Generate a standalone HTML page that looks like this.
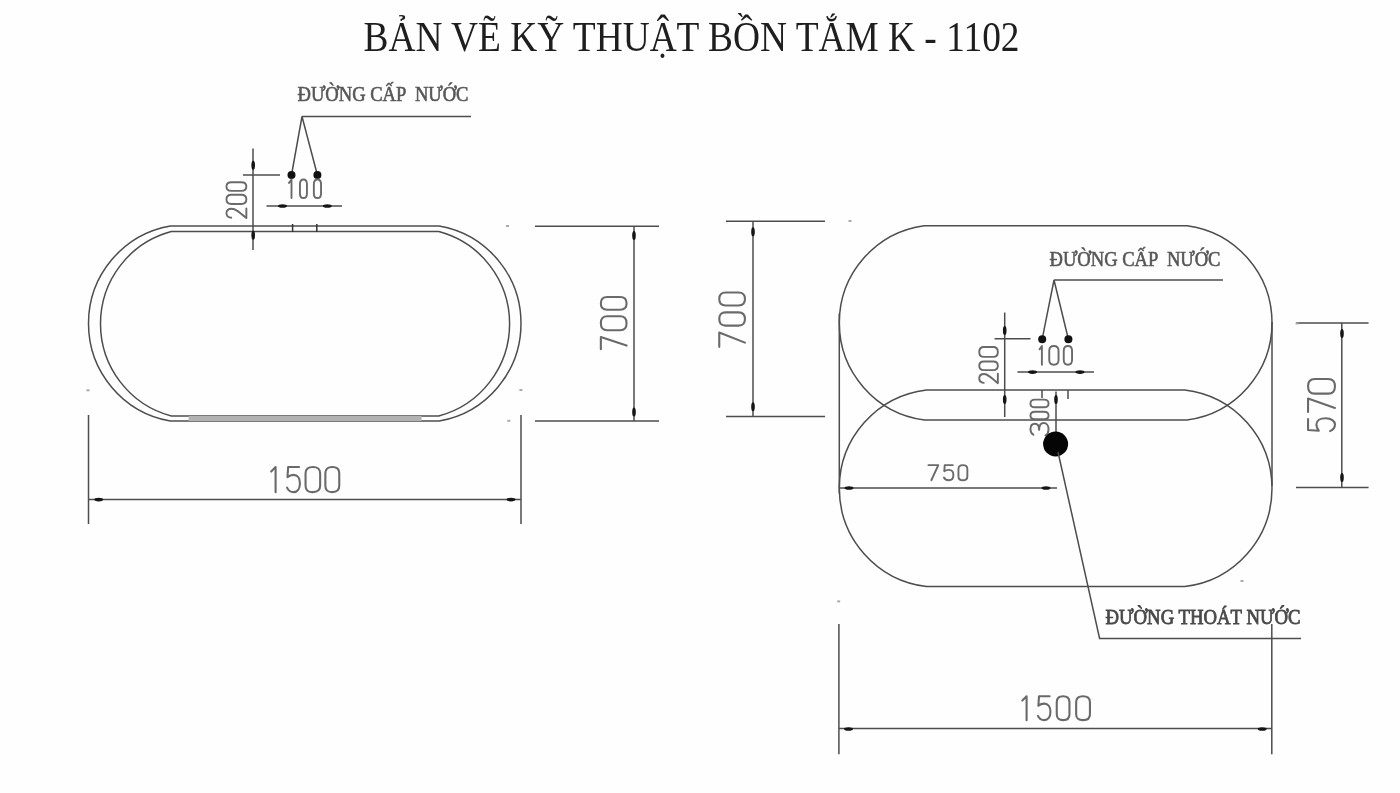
<!DOCTYPE html>
<html>
<head>
<meta charset="utf-8">
<style>
html,body{margin:0;padding:0;background:#fefefe;width:1400px;height:793px;overflow:hidden;}
svg{display:block;filter:blur(0.35px);}
.lbl{font-family:"Liberation Serif",serif;fill:#575757;stroke:#575757;stroke-width:0.6;font-weight:normal;}
.lbl2{font-family:"Liberation Serif",serif;fill:#4a4a4a;stroke:#4a4a4a;stroke-width:0.85;font-weight:normal;}
.ttl{font-family:"Liberation Serif",serif;fill:#1e1e1e;}
</style>
</head>
<body>
<svg width="1400" height="793" viewBox="0 0 1400 793">
<text class="ttl" x="363.5" y="50.5" font-size="41.3" textLength="656" lengthAdjust="spacingAndGlyphs" xml:space="preserve">BẢN VẼ KỸ THUẬT BỒN TẮM K - 1102</text>
<text class="lbl" x="297.5" y="101.4" font-size="20.5" textLength="171" lengthAdjust="spacingAndGlyphs" xml:space="preserve">ĐƯỜNG CẤP  NƯỚC</text>
<path d="M302 116.5 H471 M302 116.5 L291.5 175 M302 116.5 L317.4 175" fill="none" stroke="#4d4d4d" stroke-width="1.5"/>
<circle cx="291.5" cy="175" r="4" fill="#111"/>
<circle cx="317.4" cy="175" r="4" fill="#111"/>
<path d="M253 148.5 V250 M243 175 H280" fill="none" stroke="#4d4d4d" stroke-width="1.5"/>
<path class="num" d="M3,24 C5,8 16,0 30,0 C47,0 58,10 58,26 C58,44 42,60 1,100 H60" transform="translate(226.45,218.25) rotate(-90) scale(0.1650,0.1990)" vector-effect="non-scaling-stroke" fill="none" stroke="#6a6a6a" stroke-width="1.9" stroke-linecap="round" stroke-linejoin="round"/>
<path class="num" d="M0,25 C0,7 11,0 30,0 C49,0 60,7 60,25 V75 C60,93 49,100 30,100 C11,100 0,93 0,75 Z" transform="translate(226.45,203.95) rotate(-90) scale(0.1533,0.1990)" vector-effect="non-scaling-stroke" fill="none" stroke="#6a6a6a" stroke-width="1.9" stroke-linecap="round" stroke-linejoin="round"/>
<path class="num" d="M0,25 C0,7 11,0 30,0 C49,0 60,7 60,25 V75 C60,93 49,100 30,100 C11,100 0,93 0,75 Z" transform="translate(226.45,190.85) rotate(-90) scale(0.1433,0.1990)" vector-effect="non-scaling-stroke" fill="none" stroke="#6a6a6a" stroke-width="1.9" stroke-linecap="round" stroke-linejoin="round"/>
<path class="num" d="M19,18 L36,0 V100" transform="translate(286.22,179.55) scale(0.1467,0.1850)" vector-effect="non-scaling-stroke" fill="none" stroke="#6a6a6a" stroke-width="1.9" stroke-linecap="round" stroke-linejoin="round"/>
<path class="num" d="M0,25 C0,7 11,0 30,0 C49,0 60,7 60,25 V75 C60,93 49,100 30,100 C11,100 0,93 0,75 Z" transform="translate(299.95,179.55) scale(0.1167,0.1850)" vector-effect="non-scaling-stroke" fill="none" stroke="#6a6a6a" stroke-width="1.9" stroke-linecap="round" stroke-linejoin="round"/>
<path class="num" d="M0,25 C0,7 11,0 30,0 C49,0 60,7 60,25 V75 C60,93 49,100 30,100 C11,100 0,93 0,75 Z" transform="translate(313.85,179.55) scale(0.1200,0.1850)" vector-effect="non-scaling-stroke" fill="none" stroke="#6a6a6a" stroke-width="1.9" stroke-linecap="round" stroke-linejoin="round"/>
<path d="M266.5 206 H342" fill="none" stroke="#4d4d4d" stroke-width="1.5"/>
<path d="M170.33,226 H439.17 A99,99 0 0 1 439.17,421 H170.33 A99,99 0 0 1 170.33,226 Z" fill="none" stroke="#4d4d4d" stroke-width="1.5"/>
<path d="M171.30,231.5 H438.80 A95.5,95.5 0 0 1 438.80,416 H171.30 A95.5,95.5 0 0 1 171.30,231.5 Z" fill="none" stroke="#4d4d4d" stroke-width="1.5"/>
<rect x="188.6" y="416" width="233" height="5" fill="#b2b2b2"/>
<path d="M292.6 224 v8 M316.8 224 v8" fill="none" stroke="#333" stroke-width="1.5"/>
<path d="M535 226.3 H659 M535 421 H659 M634 226.3 V421" fill="none" stroke="#4d4d4d" stroke-width="1.5"/>
<path class="num" d="M0,0 H58 L17,100" transform="translate(600.85,349.15) rotate(-90) scale(0.2100,0.2570)" vector-effect="non-scaling-stroke" fill="none" stroke="#6a6a6a" stroke-width="2.1" stroke-linecap="round" stroke-linejoin="round"/>
<path class="num" d="M0,25 C0,7 11,0 30,0 C49,0 60,7 60,25 V75 C60,93 49,100 30,100 C11,100 0,93 0,75 Z" transform="translate(600.85,330.25) rotate(-90) scale(0.2333,0.2570)" vector-effect="non-scaling-stroke" fill="none" stroke="#6a6a6a" stroke-width="2.1" stroke-linecap="round" stroke-linejoin="round"/>
<path class="num" d="M0,25 C0,7 11,0 30,0 C49,0 60,7 60,25 V75 C60,93 49,100 30,100 C11,100 0,93 0,75 Z" transform="translate(600.85,309.75) rotate(-90) scale(0.2117,0.2570)" vector-effect="non-scaling-stroke" fill="none" stroke="#6a6a6a" stroke-width="2.1" stroke-linecap="round" stroke-linejoin="round"/>
<path d="M88.5 415 V524 M521 415 V524 M88.5 499.6 H521" fill="none" stroke="#4d4d4d" stroke-width="1.5"/>
<path class="num" d="M19,18 L36,0 V100" transform="translate(266.30,467.05) scale(0.2583,0.2510)" vector-effect="non-scaling-stroke" fill="none" stroke="#6a6a6a" stroke-width="2.1" stroke-linecap="round" stroke-linejoin="round"/>
<path class="num" d="M55,0 H5 L2,40 C10,34 20,31 30,31 C48,31 59,45 59,65 C59,87 47,100 30,100 C16,100 6,94 0,82" transform="translate(287.05,467.05) scale(0.2183,0.2510)" vector-effect="non-scaling-stroke" fill="none" stroke="#6a6a6a" stroke-width="2.1" stroke-linecap="round" stroke-linejoin="round"/>
<path class="num" d="M0,25 C0,7 11,0 30,0 C49,0 60,7 60,25 V75 C60,93 49,100 30,100 C11,100 0,93 0,75 Z" transform="translate(305.55,467.05) scale(0.2433,0.2510)" vector-effect="non-scaling-stroke" fill="none" stroke="#6a6a6a" stroke-width="2.1" stroke-linecap="round" stroke-linejoin="round"/>
<path class="num" d="M0,25 C0,7 11,0 30,0 C49,0 60,7 60,25 V75 C60,93 49,100 30,100 C11,100 0,93 0,75 Z" transform="translate(325.35,467.05) scale(0.2317,0.2510)" vector-effect="non-scaling-stroke" fill="none" stroke="#6a6a6a" stroke-width="2.1" stroke-linecap="round" stroke-linejoin="round"/>
<path d="M726 221.2 H825 M726 416.4 H825 M753 221.2 V416.4" fill="none" stroke="#4d4d4d" stroke-width="1.5"/>
<path class="num" d="M0,0 H58 L17,100" transform="translate(719.25,346.85) rotate(-90) scale(0.2483,0.2570)" vector-effect="non-scaling-stroke" fill="none" stroke="#6a6a6a" stroke-width="2.1" stroke-linecap="round" stroke-linejoin="round"/>
<path class="num" d="M0,25 C0,7 11,0 30,0 C49,0 60,7 60,25 V75 C60,93 49,100 30,100 C11,100 0,93 0,75 Z" transform="translate(719.25,325.65) rotate(-90) scale(0.2217,0.2570)" vector-effect="non-scaling-stroke" fill="none" stroke="#6a6a6a" stroke-width="2.1" stroke-linecap="round" stroke-linejoin="round"/>
<path class="num" d="M0,25 C0,7 11,0 30,0 C49,0 60,7 60,25 V75 C60,93 49,100 30,100 C11,100 0,93 0,75 Z" transform="translate(719.25,305.45) rotate(-90) scale(0.2150,0.2570)" vector-effect="non-scaling-stroke" fill="none" stroke="#6a6a6a" stroke-width="2.1" stroke-linecap="round" stroke-linejoin="round"/>
<path d="M924.42,225.7 H1186.88 A98,98 0 0 1 1186.88,420 H924.42 A98,98 0 0 1 924.42,225.7 Z" fill="none" stroke="#4d4d4d" stroke-width="1.5"/>
<path d="M926.55,390 H1184.75 A99,99 0 0 1 1184.75,586.6 H926.55 A99,99 0 0 1 926.55,390 Z" fill="none" stroke="#4d4d4d" stroke-width="1.5"/>
<path d="M839.3 313.6 V493.5 M1272 322 V486" fill="none" stroke="#4d4d4d" stroke-width="1.5"/>
<path d="M1296 322.9 H1368.6 M1296 487.4 H1368.6 M1341.8 322.9 V487.4" fill="none" stroke="#4d4d4d" stroke-width="1.5"/>
<path class="num" d="M55,0 H5 L2,40 C10,34 20,31 30,31 C48,31 59,45 59,65 C59,87 47,100 30,100 C16,100 6,94 0,82" transform="translate(1308.05,431.15) rotate(-90) scale(0.2183,0.2690)" vector-effect="non-scaling-stroke" fill="none" stroke="#6a6a6a" stroke-width="2.1" stroke-linecap="round" stroke-linejoin="round"/>
<path class="num" d="M0,0 H58 L17,100" transform="translate(1308.05,411.95) rotate(-90) scale(0.2317,0.2690)" vector-effect="non-scaling-stroke" fill="none" stroke="#6a6a6a" stroke-width="2.1" stroke-linecap="round" stroke-linejoin="round"/>
<path class="num" d="M0,25 C0,7 11,0 30,0 C49,0 60,7 60,25 V75 C60,93 49,100 30,100 C11,100 0,93 0,75 Z" transform="translate(1308.05,393.65) rotate(-90) scale(0.2433,0.2690)" vector-effect="non-scaling-stroke" fill="none" stroke="#6a6a6a" stroke-width="2.1" stroke-linecap="round" stroke-linejoin="round"/>
<text class="lbl" x="1049.5" y="266" font-size="20.5" textLength="171" lengthAdjust="spacingAndGlyphs" xml:space="preserve">ĐƯỜNG CẤP  NƯỚC</text>
<path d="M1054 280 H1223 M1054 280 L1042.2 339.2 M1054 280 L1068.4 339.2" fill="none" stroke="#4d4d4d" stroke-width="1.5"/>
<circle cx="1042.2" cy="339.2" r="4" fill="#111"/>
<circle cx="1068.4" cy="339.2" r="4" fill="#111"/>
<path d="M1004.7 312.6 V417 M994.6 338.8 H1030.5" fill="none" stroke="#4d4d4d" stroke-width="1.5"/>
<path class="num" d="M3,24 C5,8 16,0 30,0 C47,0 58,10 58,26 C58,44 42,60 1,100 H60" transform="translate(979.25,383.35) rotate(-90) scale(0.1600,0.1860)" vector-effect="non-scaling-stroke" fill="none" stroke="#6a6a6a" stroke-width="1.9" stroke-linecap="round" stroke-linejoin="round"/>
<path class="num" d="M0,25 C0,7 11,0 30,0 C49,0 60,7 60,25 V75 C60,93 49,100 30,100 C11,100 0,93 0,75 Z" transform="translate(979.25,370.15) rotate(-90) scale(0.1433,0.1860)" vector-effect="non-scaling-stroke" fill="none" stroke="#6a6a6a" stroke-width="1.9" stroke-linecap="round" stroke-linejoin="round"/>
<path class="num" d="M0,25 C0,7 11,0 30,0 C49,0 60,7 60,25 V75 C60,93 49,100 30,100 C11,100 0,93 0,75 Z" transform="translate(979.25,356.85) rotate(-90) scale(0.1650,0.1860)" vector-effect="non-scaling-stroke" fill="none" stroke="#6a6a6a" stroke-width="1.9" stroke-linecap="round" stroke-linejoin="round"/>
<path class="num" d="M19,18 L36,0 V100" transform="translate(1036.86,345.95) scale(0.1400,0.1880)" vector-effect="non-scaling-stroke" fill="none" stroke="#6a6a6a" stroke-width="1.9" stroke-linecap="round" stroke-linejoin="round"/>
<path class="num" d="M0,25 C0,7 11,0 30,0 C49,0 60,7 60,25 V75 C60,93 49,100 30,100 C11,100 0,93 0,75 Z" transform="translate(1049.25,345.95) scale(0.1550,0.1880)" vector-effect="non-scaling-stroke" fill="none" stroke="#6a6a6a" stroke-width="1.9" stroke-linecap="round" stroke-linejoin="round"/>
<path class="num" d="M0,25 C0,7 11,0 30,0 C49,0 60,7 60,25 V75 C60,93 49,100 30,100 C11,100 0,93 0,75 Z" transform="translate(1063.75,345.95) scale(0.1383,0.1880)" vector-effect="non-scaling-stroke" fill="none" stroke="#6a6a6a" stroke-width="1.9" stroke-linecap="round" stroke-linejoin="round"/>
<path d="M1017.4 372.1 H1094" fill="none" stroke="#4d4d4d" stroke-width="1.5"/>
<path d="M1056 391.5 V440 M1068 390 v9 M1042 390 v8" fill="none" stroke="#4d4d4d" stroke-width="1.5"/>
<path class="num" d="M4,16 C9,5 19,0 30,0 C46,0 56,10 56,25 C56,40 46,48 27,48 C48,48 60,58 60,73 C60,90 47,100 30,100 C16,100 6,94 0,83" transform="translate(1030.45,435.55) rotate(-90) scale(0.2100,0.1810)" vector-effect="non-scaling-stroke" fill="none" stroke="#6a6a6a" stroke-width="1.9" stroke-linecap="round" stroke-linejoin="round"/>
<path class="num" d="M0,25 C0,7 11,0 30,0 C49,0 60,7 60,25 V75 C60,93 49,100 30,100 C11,100 0,93 0,75 Z" transform="translate(1030.45,419.25) rotate(-90) scale(0.1250,0.1810)" vector-effect="non-scaling-stroke" fill="none" stroke="#6a6a6a" stroke-width="1.9" stroke-linecap="round" stroke-linejoin="round"/>
<path class="num" d="M0,25 C0,7 11,0 30,0 C49,0 60,7 60,25 V75 C60,93 49,100 30,100 C11,100 0,93 0,75 Z" transform="translate(1030.45,407.25) rotate(-90) scale(0.1267,0.1810)" vector-effect="non-scaling-stroke" fill="none" stroke="#6a6a6a" stroke-width="1.9" stroke-linecap="round" stroke-linejoin="round"/>
<circle cx="1055.6" cy="444" r="12.5" fill="#050505"/>
<path d="M1058 452 L1099.6 638.4 H1301" fill="none" stroke="#4d4d4d" stroke-width="1.5"/>
<path class="num" d="M0,0 H58 L17,100" transform="translate(928.45,465.15) scale(0.1700,0.1510)" vector-effect="non-scaling-stroke" fill="none" stroke="#6a6a6a" stroke-width="1.9" stroke-linecap="round" stroke-linejoin="round"/>
<path class="num" d="M55,0 H5 L2,40 C10,34 20,31 30,31 C48,31 59,45 59,65 C59,87 47,100 30,100 C16,100 6,94 0,82" transform="translate(943.95,465.15) scale(0.1600,0.1510)" vector-effect="non-scaling-stroke" fill="none" stroke="#6a6a6a" stroke-width="1.9" stroke-linecap="round" stroke-linejoin="round"/>
<path class="num" d="M0,25 C0,7 11,0 30,0 C49,0 60,7 60,25 V75 C60,93 49,100 30,100 C11,100 0,93 0,75 Z" transform="translate(958.45,465.15) scale(0.1483,0.1510)" vector-effect="non-scaling-stroke" fill="none" stroke="#6a6a6a" stroke-width="1.9" stroke-linecap="round" stroke-linejoin="round"/>
<path d="M839.3 488 H1057" fill="none" stroke="#4d4d4d" stroke-width="1.5"/>
<text class="lbl2" x="1105.5" y="623.8" font-size="22" textLength="195" lengthAdjust="spacingAndGlyphs" xml:space="preserve">ĐƯỜNG THOÁT NƯỚC</text>
<path d="M838.9 624 V754.3 M1271.8 624 V754.3 M838.9 728.6 H1271.8" fill="none" stroke="#4d4d4d" stroke-width="1.5"/>
<path class="num" d="M19,18 L36,0 V100" transform="translate(1017.60,696.25) scale(0.2500,0.2390)" vector-effect="non-scaling-stroke" fill="none" stroke="#6a6a6a" stroke-width="2.1" stroke-linecap="round" stroke-linejoin="round"/>
<path class="num" d="M55,0 H5 L2,40 C10,34 20,31 30,31 C48,31 59,45 59,65 C59,87 47,100 30,100 C16,100 6,94 0,82" transform="translate(1037.95,696.25) scale(0.2117,0.2390)" vector-effect="non-scaling-stroke" fill="none" stroke="#6a6a6a" stroke-width="2.1" stroke-linecap="round" stroke-linejoin="round"/>
<path class="num" d="M0,25 C0,7 11,0 30,0 C49,0 60,7 60,25 V75 C60,93 49,100 30,100 C11,100 0,93 0,75 Z" transform="translate(1056.75,696.25) scale(0.2117,0.2390)" vector-effect="non-scaling-stroke" fill="none" stroke="#6a6a6a" stroke-width="2.1" stroke-linecap="round" stroke-linejoin="round"/>
<path class="num" d="M0,25 C0,7 11,0 30,0 C49,0 60,7 60,25 V75 C60,93 49,100 30,100 C11,100 0,93 0,75 Z" transform="translate(1076.15,696.25) scale(0.2300,0.2390)" vector-effect="non-scaling-stroke" fill="none" stroke="#6a6a6a" stroke-width="2.1" stroke-linecap="round" stroke-linejoin="round"/>
<ellipse cx="253.2" cy="165.3" rx="1.8" ry="4.5" fill="#151515"/>
<ellipse cx="253.2" cy="235.3" rx="1.8" ry="4.5" fill="#151515"/>
<ellipse cx="282.5" cy="206" rx="4.5" ry="1.8" fill="#151515"/>
<ellipse cx="327.3" cy="206" rx="4.5" ry="1.8" fill="#151515"/>
<ellipse cx="634" cy="235.5" rx="1.8" ry="4.5" fill="#151515"/>
<ellipse cx="634" cy="411.9" rx="1.8" ry="4.5" fill="#151515"/>
<ellipse cx="98.7" cy="499.6" rx="4.5" ry="1.8" fill="#151515"/>
<ellipse cx="511" cy="499.6" rx="4.5" ry="1.8" fill="#151515"/>
<ellipse cx="753" cy="231.7" rx="1.8" ry="4.5" fill="#151515"/>
<ellipse cx="753" cy="406.7" rx="1.8" ry="4.5" fill="#151515"/>
<ellipse cx="1342" cy="333.5" rx="1.8" ry="4.5" fill="#151515"/>
<ellipse cx="1342" cy="477.5" rx="1.8" ry="4.5" fill="#151515"/>
<ellipse cx="1004.7" cy="330.5" rx="1.8" ry="4.5" fill="#151515"/>
<ellipse cx="1004.7" cy="399.5" rx="1.8" ry="4.5" fill="#151515"/>
<ellipse cx="1032.5" cy="372.1" rx="4.5" ry="1.8" fill="#151515"/>
<ellipse cx="1080" cy="372.1" rx="4.5" ry="1.8" fill="#151515"/>
<ellipse cx="1056" cy="399.5" rx="1.8" ry="4.5" fill="#151515"/>
<ellipse cx="849" cy="488" rx="4.5" ry="1.8" fill="#151515"/>
<ellipse cx="1046" cy="488" rx="4.5" ry="1.8" fill="#151515"/>
<ellipse cx="848.5" cy="729" rx="4.5" ry="1.8" fill="#151515"/>
<ellipse cx="1262.2" cy="729" rx="4.5" ry="1.8" fill="#151515"/>
<rect x="86.5" y="389.3" width="3" height="2" fill="#aaa"/>
<rect x="519.4" y="389" width="3" height="2" fill="#aaa"/>
<rect x="507.3" y="419.8" width="3" height="2" fill="#aaa"/>
<rect x="506.0" y="225" width="3" height="2" fill="#aaa"/>
<rect x="848.5" y="220" width="3" height="2" fill="#aaa"/>
<rect x="837.2" y="600.4" width="3" height="2" fill="#aaa"/>
<rect x="1240.5" y="580" width="3" height="2" fill="#aaa"/>
<rect x="1295.5" y="322.5" width="3" height="2" fill="#aaa"/>
</svg>
</body>
</html>
